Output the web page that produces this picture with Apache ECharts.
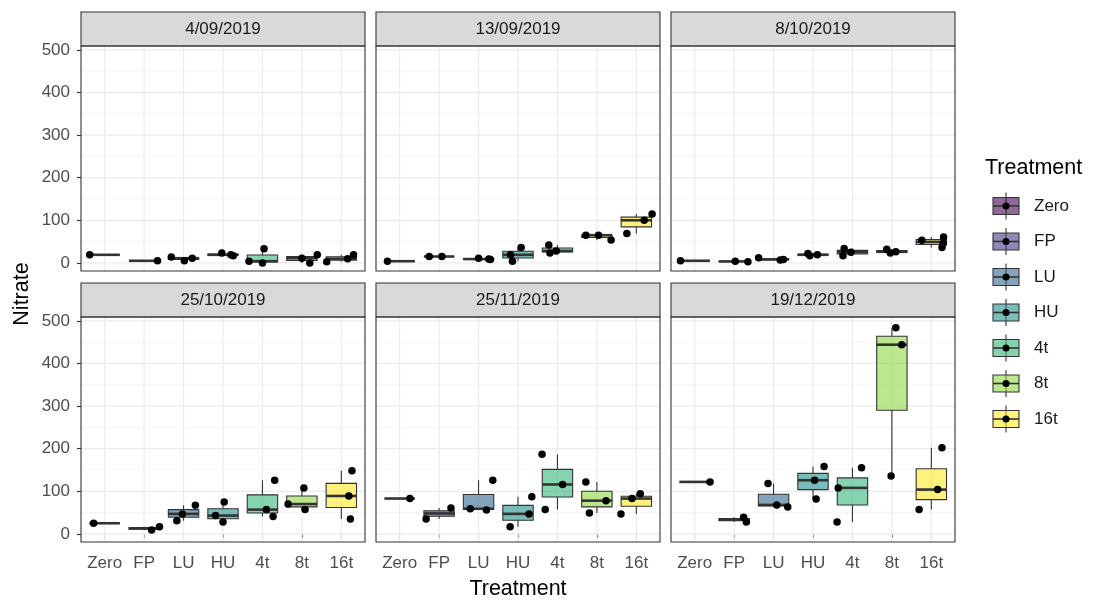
<!DOCTYPE html>
<html>
<head>
<meta charset="utf-8">
<script src="https://cdn.jsdelivr.net/npm/echarts@6/dist/echarts.min.js"></script>
<style>
  html, body { margin: 0; padding: 0; background: #ffffff; }
  #chart { width: 1096px; height: 601px; }
</style>
</head>
<body>
<div id="chart"></div>
<script>
// Treatments (x categories) and sampling dates (facets)
const treatments = ['Zero', 'FP', 'LU', 'HU', '4t', '8t', '16t'];
const dates = ['4/09/2019', '13/09/2019', '8/10/2019', '25/10/2019', '25/11/2019', '19/12/2019'];
const yTicks = [0, 100, 200, 300, 400, 500];
const yMinorTicks = [50, 150, 250, 350, 450];

// Nitrate replicates per treatment, one array per sampling date
const nitrate0409 = [[19], [5], [14, 5, 11], [23, 17, 19], [4, 33, 0], [11, 0, 19], [3, 10, 19]];
const nitrate1309 = [[4], [15, 15], [11, 8, 9], [19, 4, 36], [42, 23, 28], [65, 65, 54], [69, 100, 115]];
const nitrate0810 = [[5], [4, 3], [12, 7, 8], [22, 17, 19], [34, 17, 25], [32, 23, 26], [53, 61, 36, 46]];
const nitrate2510 = [[25], [9, 17], [31, 47, 67], [43, 28, 75], [57, 41, 126], [70, 108, 57], [148, 89, 35]];
const nitrate2511 = [[83], [35, 61], [59, 56, 126], [17, 47, 87], [187, 116, 57], [122, 78, 49], [47, 83, 94]];
const nitrate1912 = [[122], [39, 28], [118, 68, 63], [158, 126, 82], [155, 108, 28], [484, 444, 136], [202, 104, 57]];

// Horizontal jitter of each replicate point (category units), same order as above
const jitter0409 = [[-0.38], [0.34], [-0.31, 0.02, 0.22], [-0.03, 0.26, 0.2], [-0.34, 0.04, 0.0], [0.0, 0.2, 0.39], [-0.37, 0.16, 0.31]];
const jitter1309 = [[-0.31], [-0.25, 0.07], [0.0, 0.3, 0.26], [-0.19, -0.14, 0.08], [-0.22, -0.19, -0.03], [-0.28, 0.04, 0.36], [-0.24, 0.2, 0.4]];
const jitter0810 = [[-0.36], [0.03, 0.35], [-0.38, 0.17, 0.25], [-0.13, -0.08, 0.11], [-0.21, -0.24, -0.04], [-0.13, -0.04, 0.1], [-0.24, 0.31, 0.27, 0.3]];
const jitter2510 = [[-0.28], [0.19, 0.39], [-0.17, -0.03, 0.3], [-0.19, 0.0, 0.03], [0.1, 0.27, 0.31], [-0.35, 0.05, 0.08], [0.27, 0.19, 0.23]];
const jitter2511 = [[0.26], [-0.33, 0.3], [-0.21, 0.2, 0.36], [-0.2, 0.28, 0.35], [-0.39, 0.13, -0.31], [-0.28, 0.23, -0.19], [-0.39, -0.11, 0.1]];
const jitter1912 = [[0.39], [0.24, 0.31], [-0.14, 0.08, 0.36], [0.28, 0.04, 0.08], [0.23, -0.36, -0.39], [0.1, 0.25, -0.02], [0.27, 0.16, -0.31]];

const panelValues = [nitrate0409, nitrate1309, nitrate0810, nitrate2510, nitrate2511, nitrate1912];
const panelJitter = [jitter0409, jitter1309, jitter0810, jitter2510, jitter2511, jitter1912];

// viridis palette, drawn at 60% opacity
const fills = ['rgba(68,1,84,0.6)', 'rgba(68,58,131,0.6)', 'rgba(49,104,142,0.6)', 'rgba(33,144,140,0.6)',
               'rgba(53,183,121,0.6)', 'rgba(143,215,68,0.6)', 'rgba(253,231,37,0.6)'];

// ---- layout ----
const FONT = '"Liberation Sans", Arial, sans-serif';
const COLS = [81, 376, 671];
const ROWS = [46, 317];
const PW = 284, PH = 225, STRIP = 34;
const Y_MIN = -19, Y_MAX = 509;
const X_MIN = 0.4, X_MAX = 7.6;
const BOX_W = 0.77;
const EDGE = '#333333';

// Tukey box statistics (quantile type 7, whiskers at 1.5 IQR)
function quantile(s, p) {
  const h = (s.length - 1) * p, lo = Math.floor(h);
  return lo + 1 < s.length ? s[lo] + (h - lo) * (s[lo + 1] - s[lo]) : s[lo];
}
function boxStats(vals) {
  const s = vals.slice().sort((a, b) => a - b);
  const q1 = quantile(s, 0.25), med = quantile(s, 0.5), q3 = quantile(s, 0.75);
  const iqr = q3 - q1;
  const lo = Math.min(...s.filter(v => v >= q1 - 1.5 * iqr));
  const hi = Math.max(...s.filter(v => v <= q3 + 1.5 * iqr));
  return [lo, q1, med, q3, hi];
}

function renderGridLine(params, api) {
  const cs = params.coordSys;
  const kind = api.value(0), v = api.value(1);
  if (kind === 2) {
    const p = api.coord([v, Y_MIN]);
    return { type: 'line', shape: { x1: p[0], y1: cs.y, x2: p[0], y2: cs.y + cs.height },
             style: { stroke: '#EBEBEB', lineWidth: 1.2 }, silent: true };
  }
  const p = api.coord([X_MIN, v]);
  return { type: 'line', shape: { x1: cs.x, y1: p[1], x2: cs.x + cs.width, y2: p[1] },
           style: { stroke: kind === 0 ? '#EBEBEB' : '#F3F3F3', lineWidth: kind === 0 ? 1.2 : 0.8 }, silent: true };
}

function renderBox(params, api) {
  const x = api.value(0);
  const lo = api.value(1), q1 = api.value(2), med = api.value(3), q3 = api.value(4), hi = api.value(5);
  const ci = api.value(6);
  const h = BOX_W / 2;
  const tl = api.coord([x - h, q3]), br = api.coord([x + h, q1]);
  const mL = api.coord([x - h, med]), mR = api.coord([x + h, med]);
  const wHi = api.coord([x, hi]), wLo = api.coord([x, lo]);
  const cQ3 = api.coord([x, q3]), cQ1 = api.coord([x, q1]);
  const stroke = { stroke: EDGE, lineWidth: 1.1 };
  return {
    type: 'group',
    children: [
      { type: 'line', shape: { x1: wHi[0], y1: wHi[1], x2: cQ3[0], y2: cQ3[1] }, style: stroke },
      { type: 'line', shape: { x1: cQ1[0], y1: cQ1[1], x2: wLo[0], y2: wLo[1] }, style: stroke },
      { type: 'rect', shape: { x: tl[0], y: tl[1], width: br[0] - tl[0], height: br[1] - tl[1] },
        style: { fill: fills[ci], stroke: EDGE, lineWidth: 1.1 } },
      { type: 'line', shape: { x1: mL[0], y1: mL[1], x2: mR[0], y2: mR[1] }, style: { stroke: EDGE, lineWidth: 2.6 } }
    ]
  };
}

const grids = [], xAxes = [], yAxes = [], series = [], graphics = [];
const gridLineData = [];
yTicks.forEach(v => gridLineData.push([0, v]));
yMinorTicks.forEach(v => gridLineData.push([1, v]));
treatments.forEach((t, i) => gridLineData.push([2, i + 1]));

dates.forEach((d, k) => {
  const col = k % 3, row = Math.floor(k / 3);
  const left = COLS[col], top = ROWS[row];
  grids.push({ left: left, top: top, width: PW, height: PH, show: true, backgroundColor: '#ffffff', borderWidth: 0 });
  xAxes.push({
    gridIndex: k, type: 'value', min: X_MIN, max: X_MAX,
    axisLine: { show: false }, splitLine: { show: false },
    axisTick: { show: row === 1, length: 4, customValues: treatments.map((t, i) => i + 1), lineStyle: { color: EDGE, width: 1.1 } },
    axisLabel: { show: row === 1, customValues: treatments.map((t, i) => i + 1), margin: 13,
                 formatter: v => treatments[Math.round(v) - 1], color: '#4D4D4D', fontSize: 17, fontFamily: FONT }
  });
  yAxes.push({
    gridIndex: k, type: 'value', min: Y_MIN, max: Y_MAX,
    axisLine: { show: false }, splitLine: { show: false },
    axisTick: { show: col === 0, length: 4, customValues: yTicks, lineStyle: { color: EDGE, width: 1.1 } },
    axisLabel: { show: col === 0, customValues: yTicks, margin: 11, color: '#4D4D4D', fontSize: 17, fontFamily: FONT }
  });

  series.push({
    type: 'custom', xAxisIndex: k, yAxisIndex: k, z: 1, silent: true,
    renderItem: renderGridLine, data: gridLineData
  });

  const vals = panelValues[k], jit = panelJitter[k];
  series.push({
    type: 'custom', xAxisIndex: k, yAxisIndex: k, z: 2, silent: true,
    renderItem: renderBox,
    data: vals.map((v, i) => [i + 1].concat(boxStats(v), [i]))
  });
  const pts = [];
  vals.forEach((v, i) => v.forEach((y, j) => pts.push([i + 1 + jit[i][j], y])));
  series.push({
    type: 'scatter', xAxisIndex: k, yAxisIndex: k, z: 3, silent: true,
    symbolSize: 7.5, itemStyle: { color: '#000000', opacity: 1 }, data: pts
  });

  // facet strip and panel border
  graphics.push({
    type: 'rect', shape: { x: left, y: top - STRIP, width: PW, height: STRIP }, z: 50,
    style: { fill: '#D9D9D9', stroke: EDGE, lineWidth: 1.1 }
  });
  graphics.push({
    type: 'text', x: left + PW / 2, y: top - STRIP / 2, z: 51,
    style: { text: d, fill: '#1A1A1A', font: '17px ' + FONT, textAlign: 'center', textVerticalAlign: 'middle' }
  });
  graphics.push({
    type: 'rect', shape: { x: left, y: top, width: PW, height: PH }, z: 50,
    style: { fill: 'none', stroke: EDGE, lineWidth: 1.1 }
  });
});

// axis titles
graphics.push({
  type: 'text', x: (COLS[0] + COLS[2] + PW) / 2, y: 589, z: 51,
  style: { text: 'Treatment', fill: '#000000', font: '21.5px ' + FONT, textAlign: 'center', textVerticalAlign: 'middle' }
});
graphics.push({
  type: 'text', x: 22, y: (ROWS[0] + ROWS[1] + PH) / 2, rotation: Math.PI / 2, z: 51,
  style: { text: 'Nitrate', fill: '#000000', font: '21.5px ' + FONT, textAlign: 'center', textVerticalAlign: 'middle' }
});

// legend
const LEG_X = 1006, LEG_Y0 = 206, LEG_STEP = 35.5;
graphics.push({
  type: 'text', x: 985, y: 168, z: 51,
  style: { text: 'Treatment', fill: '#000000', font: '21.5px ' + FONT, textAlign: 'left', textVerticalAlign: 'middle' }
});
treatments.forEach((t, i) => {
  const cy = LEG_Y0 + i * LEG_STEP;
  graphics.push({
    type: 'group', z: 51,
    children: [
      { type: 'line', shape: { x1: LEG_X, y1: cy - 13.5, x2: LEG_X, y2: cy + 13.5 }, style: { stroke: EDGE, lineWidth: 1.1 } },
      { type: 'rect', shape: { x: LEG_X - 13, y: cy - 8.5, width: 26, height: 17 }, style: { fill: fills[i], stroke: EDGE, lineWidth: 1.1 } },
      { type: 'line', shape: { x1: LEG_X - 13, y1: cy, x2: LEG_X + 13, y2: cy }, style: { stroke: EDGE, lineWidth: 1.6 } },
      { type: 'circle', shape: { cx: LEG_X, cy: cy, r: 3.5 }, style: { fill: '#000000' } },
      { type: 'text', x: 1034, y: cy, style: { text: t, fill: '#1A1A1A', font: '17px ' + FONT, textAlign: 'left', textVerticalAlign: 'middle' } }
    ]
  });
});

const chart = echarts.init(document.getElementById('chart'), null, { renderer: 'canvas' });
chart.setOption({
  animation: false,
  backgroundColor: '#ffffff',
  grid: grids,
  xAxis: xAxes,
  yAxis: yAxes,
  series: series,
  graphic: graphics
});
</script>
</body>
</html>
